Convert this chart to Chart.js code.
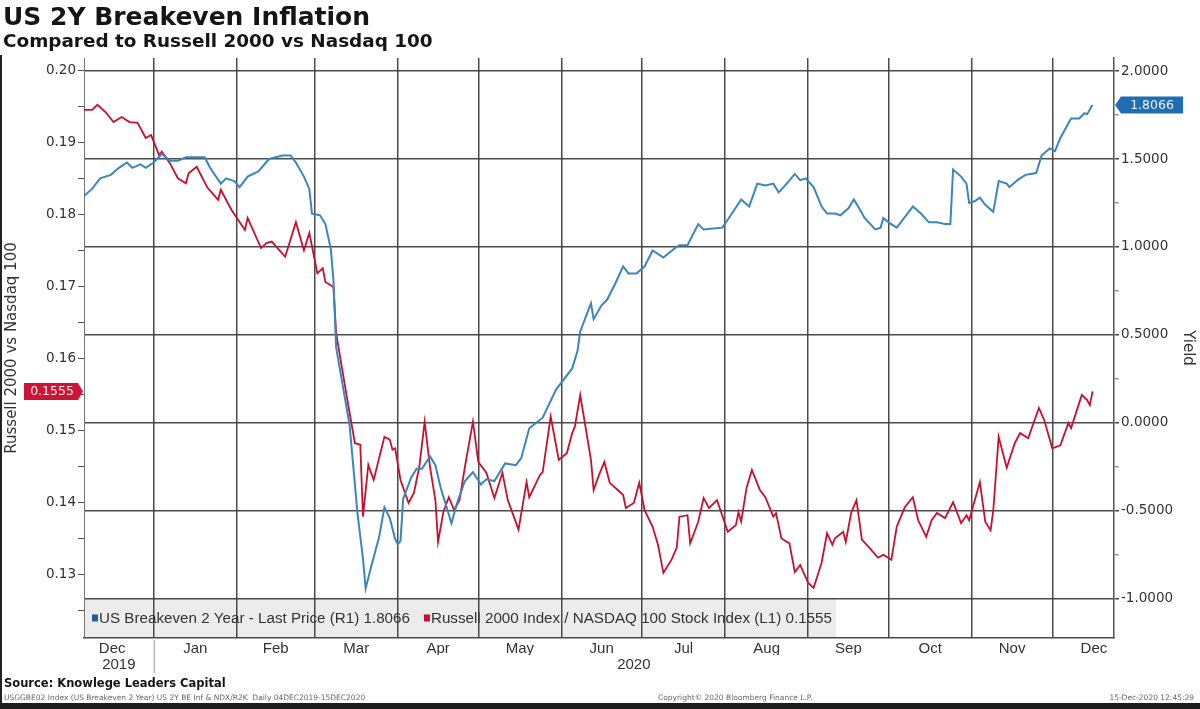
<!DOCTYPE html>
<html>
<head>
<meta charset="utf-8">
<script src="https://cdn.jsdelivr.net/npm/chart.js@4.4.1/dist/chart.umd.min.js"></script>
<style>
html,body{margin:0;padding:0;background:#fff;}
#wrap{position:relative;width:1200px;height:709px;overflow:hidden;background:#fff;}
#c{position:absolute;left:0;top:0;}
.t1{position:absolute;left:3px;top:4px;font:bold 25px "DejaVu Sans";line-height:25px;color:#151515;white-space:nowrap;}
.t2{position:absolute;left:3px;top:32px;font:bold 18.4px "DejaVu Sans";line-height:18.4px;color:#151515;white-space:nowrap;}
.src{position:absolute;left:4px;top:676px;font:bold 11.5px "DejaVu Sans";line-height:14px;color:#151515;white-space:nowrap;}
.tiny{position:absolute;top:693px;font:7.5px "DejaVu Sans";line-height:9px;color:#666;white-space:nowrap;}
.edgeL{position:absolute;left:0;top:55px;width:2px;height:654px;background:#222;}
.edgeB{position:absolute;left:0;top:703px;width:1200px;height:6px;background:#1d1d1d;}
</style>
</head>
<body>
<div id="wrap">
<canvas id="c" width="1200" height="709"></canvas>
<div class="t1">US 2Y Breakeven Inflation</div>
<div class="t2">Compared to Russell 2000 vs Nasdaq 100</div>
<div class="src">Source: Knowlege Leaders Capital</div>
<div class="tiny" style="left:4px;">USGGBE02 Index (US Breakeven 2 Year) US 2Y BE Inf &amp; NDX/R2K&nbsp; Daily 04DEC2019-15DEC2020</div>
<div class="tiny" style="left:658px;">Copyright© 2020 Bloomberg Finance L.P.</div>
<div class="tiny" style="right:6px;">15-Dec-2020 12:45:29</div>
<div class="edgeL"></div>
<div class="edgeB"></div>
</div>
<script>
// ---------- DATA ----------
const blueLabel = 'US Breakeven 2 Year - Last Price (R1)';
const redLabel = 'Russell 2000 Index / NASDAQ 100 Stock Index (L1)';

const blueDates = ['2019-12-06','2019-12-09','2019-12-12','2019-12-16','2019-12-19','2019-12-22','2019-12-24','2019-12-27','2019-12-29',
'2020-01-01','2020-01-04','2020-01-07','2020-01-10','2020-01-13','2020-01-20','2020-01-22','2020-01-26','2020-01-28','2020-01-31',
'2020-02-02','2020-02-05','2020-02-09','2020-02-13','2020-02-18','2020-02-21','2020-02-23','2020-02-26','2020-02-28','2020-02-29',
'2020-03-03','2020-03-05','2020-03-07','2020-03-08','2020-03-09','2020-03-14','2020-03-15','2020-03-17','2020-03-19','2020-03-20','2020-03-22','2020-03-25','2020-03-27','2020-03-29','2020-03-31',
'2020-04-01','2020-04-02','2020-04-03','2020-04-06','2020-04-08','2020-04-10','2020-04-13','2020-04-15','2020-04-17','2020-04-21','2020-04-23','2020-04-26','2020-04-29',
'2020-05-02','2020-05-04','2020-05-07','2020-05-11','2020-05-15','2020-05-17','2020-05-20','2020-05-25','2020-05-30',
'2020-06-05','2020-06-07','2020-06-08','2020-06-12','2020-06-13','2020-06-16','2020-06-18','2020-06-21','2020-06-24','2020-06-26','2020-06-29',
'2020-07-02','2020-07-05','2020-07-09','2020-07-13','2020-07-15','2020-07-18','2020-07-22','2020-07-24','2020-07-31',
'2020-08-04','2020-08-07','2020-08-10','2020-08-13','2020-08-16','2020-08-19','2020-08-21','2020-08-24','2020-08-27','2020-08-29','2020-08-31',
'2020-09-03','2020-09-06','2020-09-08','2020-09-11','2020-09-13','2020-09-16','2020-09-18','2020-09-20','2020-09-22','2020-09-26','2020-09-28','2020-09-29',
'2020-10-01','2020-10-04','2020-10-06','2020-10-08','2020-10-10','2020-10-13','2020-10-16','2020-10-19','2020-10-22','2020-10-24','2020-10-25','2020-10-28','2020-10-30','2020-10-31',
'2020-11-02','2020-11-04','2020-11-06','2020-11-09','2020-11-11','2020-11-14','2020-11-15','2020-11-18','2020-11-21','2020-11-25','2020-11-27','2020-11-30',
'2020-12-02','2020-12-04','2020-12-08','2020-12-11','2020-12-13','2020-12-14','2020-12-16'];
const blueValues = [1.29,1.33,1.39,1.41,1.45,1.48,1.45,1.47,1.45,
1.48,1.53,1.49,1.49,1.51,1.51,1.45,1.36,1.39,1.375,
1.34,1.40,1.43,1.50,1.52,1.52,1.48,1.40,1.33,1.19,
1.18,1.13,0.99,0.81,0.43,-0.01,-0.18,-0.52,-0.77,-0.94,-0.82,-0.65,-0.48,-0.54,-0.66,
-0.69,-0.67,-0.43,-0.31,-0.26,-0.26,-0.19,-0.24,-0.37,-0.57,-0.46,-0.33,-0.28,
-0.35,-0.32,-0.33,-0.23,-0.24,-0.20,-0.03,0.03,0.19,
0.31,0.41,0.52,0.68,0.59,0.67,0.70,0.79,0.89,0.85,0.85,
0.89,0.98,0.94,0.99,1.01,1.01,1.13,1.10,1.11,
1.20,1.27,1.23,1.36,1.35,1.36,1.31,1.36,1.415,1.38,1.39,
1.34,1.23,1.19,1.19,1.18,1.22,1.27,1.22,1.165,1.10,1.11,1.165,
1.14,1.11,1.15,1.19,1.23,1.19,1.14,1.14,1.13,1.13,1.44,1.40,1.36,1.25,
1.26,1.28,1.24,1.20,1.375,1.36,1.34,1.38,1.41,1.42,1.52,1.56,
1.545,1.62,1.73,1.73,1.76,1.755,1.8066];

const redDates = ['2019-12-06','2019-12-09','2019-12-11','2019-12-14','2019-12-17','2019-12-20','2019-12-23','2019-12-26','2019-12-29','2019-12-31',
'2020-01-03','2020-01-04','2020-01-07','2020-01-10','2020-01-13','2020-01-14','2020-01-17','2020-01-21','2020-01-25','2020-01-26','2020-01-30',
'2020-02-04','2020-02-05','2020-02-10','2020-02-12','2020-02-14','2020-02-19','2020-02-23','2020-02-26','2020-02-28',
'2020-03-02','2020-03-04','2020-03-05','2020-03-08','2020-03-09','2020-03-13','2020-03-16','2020-03-18','2020-03-19','2020-03-21','2020-03-23','2020-03-27','2020-03-29','2020-03-30','2020-03-31',
'2020-04-02','2020-04-05','2020-04-07','2020-04-09','2020-04-11','2020-04-13','2020-04-15','2020-04-16','2020-04-18','2020-04-20','2020-04-22','2020-04-24','2020-04-26','2020-04-29',
'2020-05-01','2020-05-04','2020-05-07','2020-05-10','2020-05-12','2020-05-16','2020-05-19','2020-05-20','2020-05-24','2020-05-25','2020-05-28','2020-05-31',
'2020-06-03','2020-06-05','2020-06-06','2020-06-08','2020-06-12','2020-06-13','2020-06-15','2020-06-17','2020-06-19','2020-06-22','2020-06-24','2020-06-25','2020-06-28','2020-06-30',
'2020-07-02','2020-07-05','2020-07-07','2020-07-09','2020-07-12','2020-07-14','2020-07-15','2020-07-18','2020-07-19','2020-07-22','2020-07-24','2020-07-26','2020-07-29',
'2020-08-02','2020-08-05','2020-08-06','2020-08-07','2020-08-09','2020-08-11','2020-08-14','2020-08-16','2020-08-19','2020-08-20','2020-08-22','2020-08-24','2020-08-25','2020-08-27','2020-08-29',
'2020-09-01','2020-09-03','2020-09-06','2020-09-08','2020-09-10','2020-09-11','2020-09-14','2020-09-15','2020-09-17','2020-09-19','2020-09-21','2020-09-24','2020-09-27','2020-09-29',
'2020-10-02','2020-10-04','2020-10-07','2020-10-10','2020-10-12','2020-10-15','2020-10-17','2020-10-19','2020-10-22','2020-10-25','2020-10-28','2020-10-30','2020-10-31',
'2020-11-04','2020-11-06','2020-11-08','2020-11-09','2020-11-11','2020-11-14','2020-11-17','2020-11-19','2020-11-22','2020-11-26','2020-11-28',
'2020-12-01','2020-12-04','2020-12-07','2020-12-08','2020-12-12','2020-12-14','2020-12-15','2020-12-16'];
const redValues = [0.1946,0.1946,0.1953,0.1943,0.1929,0.1936,0.1929,0.1928,0.1907,0.1911,
0.1883,0.1888,0.1872,0.1851,0.1844,0.1858,0.1867,0.1838,0.1821,0.1835,0.1807,
0.1779,0.1796,0.1754,0.1761,0.1763,0.1742,0.1790,0.1751,0.1775,
0.1719,0.1726,0.1707,0.1700,0.1636,0.1547,0.1483,0.1481,0.1381,0.1453,0.1432,0.1492,0.1488,0.1474,0.1476,
0.1432,0.1400,0.1414,0.1450,0.1513,0.1450,0.1404,0.1346,0.1388,0.1408,0.1390,0.1404,0.1450,0.1513,
0.1457,0.1442,0.1407,0.1442,0.1404,0.1363,0.1429,0.1408,0.1439,0.1443,0.1520,0.1460,
0.1469,0.1497,0.1506,0.1550,0.1460,0.1418,0.1439,0.1457,0.1428,0.1418,0.1411,0.1393,0.1400,0.1428,
0.1390,0.1367,0.1342,0.1303,0.1321,0.1338,0.1381,0.1383,0.1344,0.1374,0.1407,0.1393,0.1404,
0.1360,0.1369,0.1387,0.1374,0.1421,0.1446,0.1418,0.1408,0.1381,0.1386,0.1351,0.1346,0.1344,0.1304,0.1314,
0.1289,0.1282,0.1317,0.1358,0.1342,0.1351,0.1360,0.1346,0.1386,0.1404,0.1349,0.1337,0.1324,0.1328,
0.1321,0.1367,0.1394,0.1408,0.1376,0.1353,0.1376,0.1386,0.1379,0.1401,0.1372,0.1383,0.1376,
0.1429,0.1374,0.1362,0.1390,0.1492,0.1449,0.1483,0.1497,0.1490,0.1532,0.1515,
0.1476,0.1480,0.1511,0.1504,0.1550,0.1543,0.1536,0.1555];

const monthLabels = ['Dec','Jan','Feb','Mar','Apr','May','Jun','Jul','Aug','Sep','Oct','Nov','Dec'];
const yearLabels = ['2019','2020'];
const leftTicks = [0.13,0.14,0.15,0.16,0.17,0.18,0.19,0.20];
const rightTicks = [-1.0,-0.5,0.0,0.5,1.0,1.5,2.0];
const xStart = '2019-12-06', xEnd = '2020-12-24';
const leftRange = [0.12125, 0.2018];
const rightRange = [-1.222, 2.074];

// ---------- HELPERS ----------
const BASE = Date.parse(xStart + 'T00:00:00Z');
const dayOf = s => (Date.parse(s + 'T00:00:00Z') - BASE) / 864e5;
const xMax = dayOf(xEnd);
const monthStarts = [];
for (let i = 0; i <= 13; i++) {
  const d = new Date(Date.UTC(2019, 11 + i, 1));
  monthStarts.push(dayOf(d.toISOString().slice(0, 10)));
}
const gridDays = monthStarts.slice(1, 13);
const midDays = monthLabels.map((_, i) => (monthStarts[i] + monthStarts[i + 1]) / 2);
const jan1 = monthStarts[1];
const yearCenters = [(0 + jan1) / 2, (jan1 + xMax) / 2];
const minor = (arr, step) => { const out = []; arr.forEach((v, i) => { out.push(v); if (i < arr.length - 1) out.push(+(v + step / 2).toFixed(6)); }); return out; };
const leftAll = [+(leftTicks[0] - 0.005).toFixed(4)].concat(minor(leftTicks, 0.01));
const rightAll = minor(rightTicks, 0.5);
const isMajorL = v => leftTicks.some(t => Math.abs(t - v) < 1e-7);
const isMajorR = v => rightTicks.some(t => Math.abs(t - v) < 1e-7);

const BLUE = '#3a86bd', RED = '#c8102e';
const GRID = 'rgba(55,55,55,0.9)';
const NARROW = '"Liberation Sans Narrow", "Liberation Sans", Arial, sans-serif';

const blueData = blueDates.map((d, i) => ({ x: dayOf(d), y: blueValues[i] }));
const redData = redDates.map((d, i) => ({ x: dayOf(d), y: redValues[i] }));
const lastBlue = blueValues[blueValues.length - 1];
const lastRed = redValues[redValues.length - 1];

// ---------- DECORATION PLUGIN ----------
const LEGEND_FONT = '15.2px ' + NARROW;
const deco = {
  id: 'deco',
  beforeDraw(chart) {
    const { ctx, chartArea: a, scales } = chart;
    const yTop = scales.yR.getPixelForValue(rightTicks[0]);
    ctx.save();
    ctx.font = LEGEND_FONT;
    const w1 = ctx.measureText(blueLabel + ' ' + lastBlue.toFixed(4)).width;
    const w2 = ctx.measureText(redLabel + ' ' + lastRed.toFixed(4)).width;
    ctx.fillStyle = '#ececec';
    ctx.fillRect(a.left, yTop, 15 + w1 + 14 + 7 + w2 + 4, a.bottom - yTop);
    ctx.restore();
  },
  afterDraw(chart) {
    const { ctx, chartArea: a, scales } = chart;
    const yTop = scales.yR.getPixelForValue(rightTicks[0]);
    const ly = (yTop + a.bottom) / 2;
    ctx.save();
    ctx.font = LEGEND_FONT;
    ctx.textBaseline = 'middle';
    ctx.fillStyle = '#1f5f9a';
    ctx.fillRect(a.left + 8, ly - 4, 6, 7);
    ctx.fillStyle = '#333';
    const t1 = blueLabel + ' ' + lastBlue.toFixed(4);
    ctx.fillText(t1, a.left + 15, ly);
    const x2 = a.left + 15 + ctx.measureText(t1).width + 14;
    ctx.fillStyle = RED;
    ctx.fillRect(x2, ly - 4, 6, 7);
    ctx.fillStyle = '#333';
    ctx.fillText(redLabel + ' ' + lastRed.toFixed(4), x2 + 7, ly);

    const xs = scales.x.getPixelForValue(jan1);
    ctx.strokeStyle = '#999';
    ctx.lineWidth = 1;
    ctx.beginPath(); ctx.moveTo(xs + 0.5, a.bottom + 2); ctx.lineTo(xs + 0.5, a.bottom + 35); ctx.stroke();

    ctx.font = '12.5px "DejaVu Sans"';
    ctx.textAlign = 'center';
    const yb = scales.yR.getPixelForValue(lastBlue);
    const bx = a.right + 1;
    ctx.fillStyle = '#1f6db3';
    ctx.beginPath();
    ctx.moveTo(bx, yb); ctx.lineTo(bx + 6, yb - 8.5); ctx.lineTo(bx + 68, yb - 8.5);
    ctx.lineTo(bx + 68, yb + 8.5); ctx.lineTo(bx + 6, yb + 8.5); ctx.closePath(); ctx.fill();
    ctx.fillStyle = '#eef4fb';
    ctx.fillText(lastBlue.toFixed(4), bx + 37, yb + 0.5);

    const yr = scales.yL.getPixelForValue(lastRed);
    const rx = a.left - 1;
    ctx.fillStyle = '#cc1436';
    ctx.beginPath();
    ctx.moveTo(rx, yr); ctx.lineTo(rx - 5, yr - 8.5); ctx.lineTo(rx - 59, yr - 8.5);
    ctx.lineTo(rx - 59, yr + 8.5); ctx.lineTo(rx - 5, yr + 8.5); ctx.closePath(); ctx.fill();
    ctx.fillStyle = '#fdeef0';
    ctx.fillText(lastRed.toFixed(4), rx - 31, yr + 0.5);
    ctx.restore();
  }
};

// ---------- CHART ----------
new Chart(document.getElementById('c'), {
  type: 'line',
  data: {
    datasets: [
      { label: blueLabel, data: blueData, xAxisID: 'x', yAxisID: 'yR', borderColor: BLUE, borderWidth: 2, pointRadius: 0, tension: 0, fill: false },
      { label: redLabel, data: redData, xAxisID: 'x', yAxisID: 'yL', borderColor: RED, borderWidth: 1.8, pointRadius: 0, tension: 0, fill: false }
    ]
  },
  options: {
    responsive: false,
    animation: false,
    events: [],
    layout: { padding: { top: 58, left: 0, right: 0, bottom: 0 } },
    plugins: { legend: { display: false }, tooltip: { enabled: false }, title: { display: false } },
    scales: {
      x: {
        type: 'linear', position: 'bottom', min: 0, max: xMax, weight: 0,
        afterBuildTicks: s => { s.ticks = gridDays.map(v => ({ value: v })); },
        afterFit: s => { s.height = 0; },
        ticks: { display: false },
        grid: { color: GRID, lineWidth: 1.5, drawTicks: false },
        border: { display: true, color: GRID, width: 1.5 }
      },
      x2: {
        type: 'linear', position: 'bottom', min: 0, max: xMax, weight: 1,
        afterBuildTicks: s => { s.ticks = midDays.map(v => ({ value: v })); },
        afterFit: s => { s.height = 17; },
        ticks: { autoSkip: false, maxRotation: 0, padding: 2, color: '#333', font: { family: NARROW, size: 15 },
          callback: (v, i) => monthLabels[i] },
        grid: { display: false, drawTicks: false },
        border: { display: false }
      },
      x3: {
        type: 'linear', position: 'bottom', min: 0, max: xMax, weight: 2,
        afterBuildTicks: s => { s.ticks = yearCenters.map(v => ({ value: v })); },
        afterFit: s => { s.height = 71 - 17; },
        ticks: { autoSkip: false, maxRotation: 0, padding: 1, color: '#333', font: { family: NARROW, size: 15 },
          callback: (v, i) => yearLabels[i] },
        grid: { display: false, drawTicks: false },
        border: { display: false }
      },
      yL: {
        type: 'linear', position: 'left', min: leftRange[0], max: leftRange[1],
        afterBuildTicks: s => { s.ticks = leftAll.map(v => ({ value: v })); },
        afterFit: s => { s.width = 84; },
        ticks: { autoSkip: false, padding: 2, color: '#333', font: { family: 'DejaVu Sans', size: 13.5 },
          callback: v => isMajorL(v) ? v.toFixed(2) : '' },
        grid: { drawOnChartArea: false, tickLength: 6, color: '#555', lineWidth: 1 },
        border: { display: true, color: '#777', width: 1 },
        title: { display: true, text: 'Russell 2000 vs Nasdaq 100', color: '#333', font: { family: 'DejaVu Sans', size: 15 }, padding: { top: 3, bottom: 0 } }
      },
      yR: {
        type: 'linear', position: 'right', min: rightRange[0], max: rightRange[1],
        afterBuildTicks: s => { s.ticks = rightAll.map(v => ({ value: v })); },
        afterFit: s => { s.width = 86; },
        ticks: { autoSkip: false, padding: 2, color: '#333', font: { family: 'DejaVu Sans', size: 13.5 },
          callback: v => isMajorR(v) ? v.toFixed(4) : '' },
        grid: { drawOnChartArea: true, tickLength: 5, lineWidth: 1.5,
          color: c => (c.tick && isMajorR(c.tick.value)) ? GRID : 'rgba(0,0,0,0)',
          tickColor: c => (c.tick && isMajorR(c.tick.value)) ? '#444' : '#999' },
        border: { display: true, color: '#555', width: 1.5 },
        title: { display: true, text: 'Yield', color: '#333', font: { family: 'DejaVu Sans', size: 15 }, padding: { top: 3, bottom: 0 } }
      }
    }
  },
  plugins: [deco]
});
</script>
</body>
</html>
